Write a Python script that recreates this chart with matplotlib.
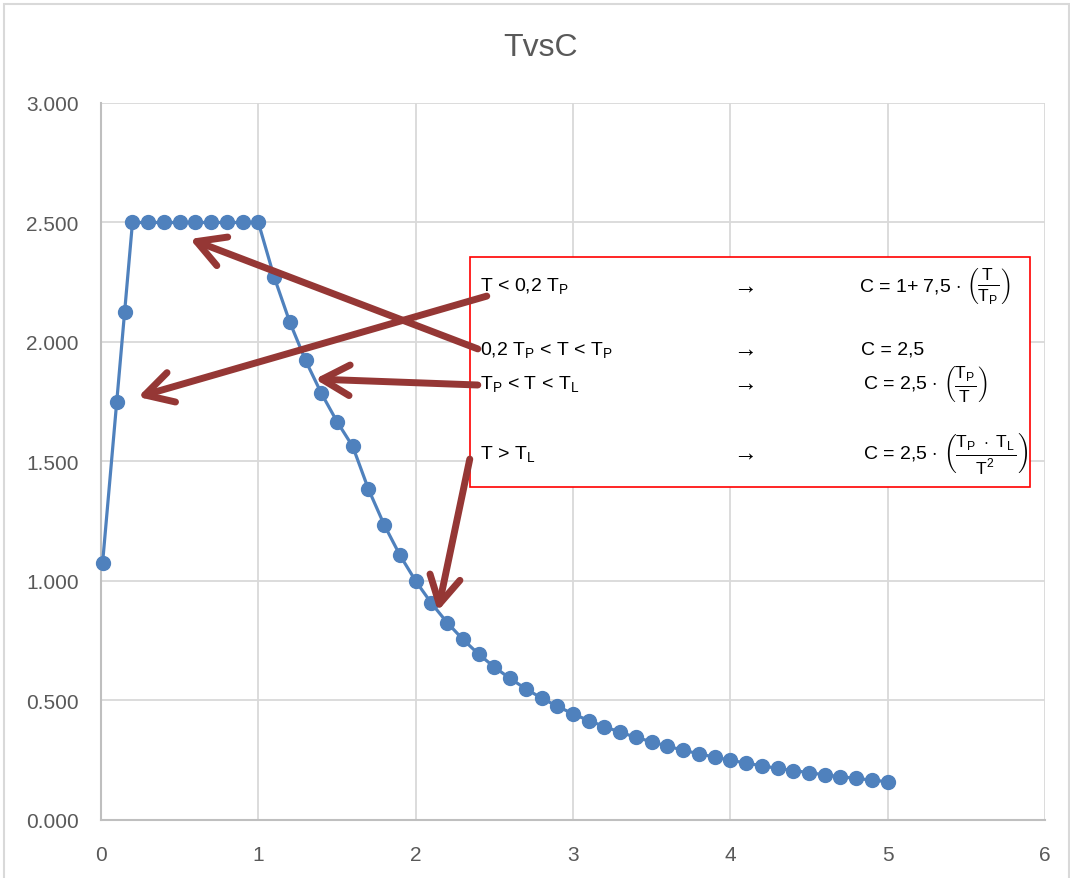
import matplotlib.pyplot as plt
from matplotlib.patches import Rectangle

# donnees
periode_T = [0.01, 0.1, 0.15, 0.2, 0.3, 0.4, 0.5, 0.6, 0.7, 0.8, 0.9, 1.0,
             1.1, 1.2, 1.3, 1.4, 1.5, 1.6, 1.7, 1.8, 1.9, 2.0,
             2.1, 2.2, 2.3, 2.4, 2.5, 2.6, 2.7, 2.8, 2.9, 3.0,
             3.1, 3.2, 3.3, 3.4, 3.5, 3.6, 3.7, 3.8, 3.9, 4.0,
             4.1, 4.2, 4.3, 4.4, 4.5, 4.6, 4.7, 4.8, 4.9, 5.0]
coef_C = [1.075, 1.750, 2.125, 2.500, 2.500, 2.500, 2.500, 2.500, 2.500, 2.500, 2.500, 2.500,
          2.273, 2.083, 1.923, 1.786, 1.667, 1.563, 1.384, 1.235, 1.108, 1.000,
          0.907, 0.826, 0.756, 0.694, 0.640, 0.592, 0.549, 0.510, 0.476, 0.444,
          0.416, 0.391, 0.367, 0.346, 0.327, 0.309, 0.292, 0.277, 0.263, 0.250,
          0.238, 0.227, 0.216, 0.207, 0.198, 0.189, 0.181, 0.174, 0.167, 0.160]

x_ticks = [0, 1, 2, 3, 4, 5, 6]
y_ticks = [0.0, 0.5, 1.0, 1.5, 2.0, 2.5, 3.0]

regles = [r"T < 0,2 T$_\mathrm{P}$",
          r"0,2 T$_\mathrm{P}$ < T < T$_\mathrm{P}$",
          r"T$_\mathrm{P}$ < T < T$_\mathrm{L}$",
          r"T > T$_\mathrm{L}$"]
formules = [r"C = 1+ 7,5 $\cdot$", r"C = 2,5", r"C = 2,5 $\cdot$", r"C = 2,5 $\cdot$"]
fractions = [r"$\left(\frac{\mathrm{T}}{\mathrm{T_P}}\right)$",
             None,
             r"$\left(\frac{\mathrm{T_P}}{\mathrm{T}}\right)$",
             r"$\left(\frac{\mathrm{T_P}\ \cdot\ \mathrm{T_L}}{\mathrm{T}^2}\right)$"]

plt.rcParams['font.family'] = ['Liberation Sans Narrow', 'Liberation Sans', 'DejaVu Sans']
plt.rcParams['mathtext.fontset'] = 'custom'
plt.rcParams['mathtext.rm'] = 'Liberation Sans'
plt.rcParams['mathtext.it'] = 'Liberation Sans'

fig = plt.figure(figsize=(10.7, 8.79), dpi=100)
fig.patches.append(Rectangle((0.004, -0.01), 0.995, 1.004, transform=fig.transFigure,
                             fill=False, edgecolor='#d9d9d9', linewidth=1.5))
ax = fig.add_axes([0.0944, 0.066, 0.8822, 0.8157])

ax.plot(periode_T, coef_C, color='#4F81BD', linewidth=2.3, marker='o',
        markersize=10, zorder=3, clip_on=False)

ax.set_xlim(0, 6)
ax.set_ylim(0, 3)
ax.set_xticks(x_ticks)
ax.set_yticks(y_ticks)
ax.set_yticklabels([f"{v:.3f}" for v in y_ticks])
ax.tick_params(length=0, labelsize=15, labelcolor='#595959')
ax.tick_params(axis='y', pad=16)
ax.tick_params(axis='x', pad=18)
ax.grid(True, color='#d9d9d9', linewidth=1.3)
ax.set_axisbelow(True)
for s in ['top', 'right']:
    ax.spines[s].set_visible(False)
for s in ['left', 'bottom']:
    ax.spines[s].set_color('#bfbfbf')
    ax.spines[s].set_linewidth(1.5)

fig.text(0.505, 0.945, "TvsC", ha='center', va='center', fontsize=23, color='#595959')

# cadre des formules
ax.add_patch(Rectangle((2.344, 1.393), 3.558, 0.963, facecolor='white',
                       edgecolor='red', linewidth=1.2, zorder=4))
rangees = [2.237, 1.972, 1.83, 1.537]
debut_formule = [4.816, 4.828, 4.841, 4.841]
for y, r, f, fr, xf in zip(rangees, regles, formules, fractions, debut_formule):
    ax.text(2.41, y, r, fontsize=14, va='center', family='Liberation Sans', zorder=5)
    ax.text(4.0, y, r"$\rightarrow$", fontsize=17, va='center', zorder=5)
    t = ax.text(xf, y, f, fontsize=14, va='center', family='Liberation Sans', zorder=5)
    if fr is not None:
        ax.annotate(fr, xy=(1, 0.5), xycoords=t, xytext=(4, 0),
                    textcoords='offset points', va='center', fontsize=18, zorder=5)

# fleches
fleches = [((2.452, 2.192), (0.235, 1.770)),
           ((2.395, 1.971), (0.565, 2.431)),
           ((2.395, 1.820), (1.360, 1.845)),
           ((2.344, 1.510), (2.141, 0.874))]
for queue, tete in fleches:
    ax.annotate("", xy=tete, xytext=queue,
                arrowprops=dict(arrowstyle="->,head_length=0.9,head_width=0.5",
                                color='#953735', linewidth=5, mutation_scale=22,
                                shrinkA=0, shrinkB=0, capstyle='round',
                                joinstyle='round'), zorder=6)

plt.savefig("out.png", dpi=100)
